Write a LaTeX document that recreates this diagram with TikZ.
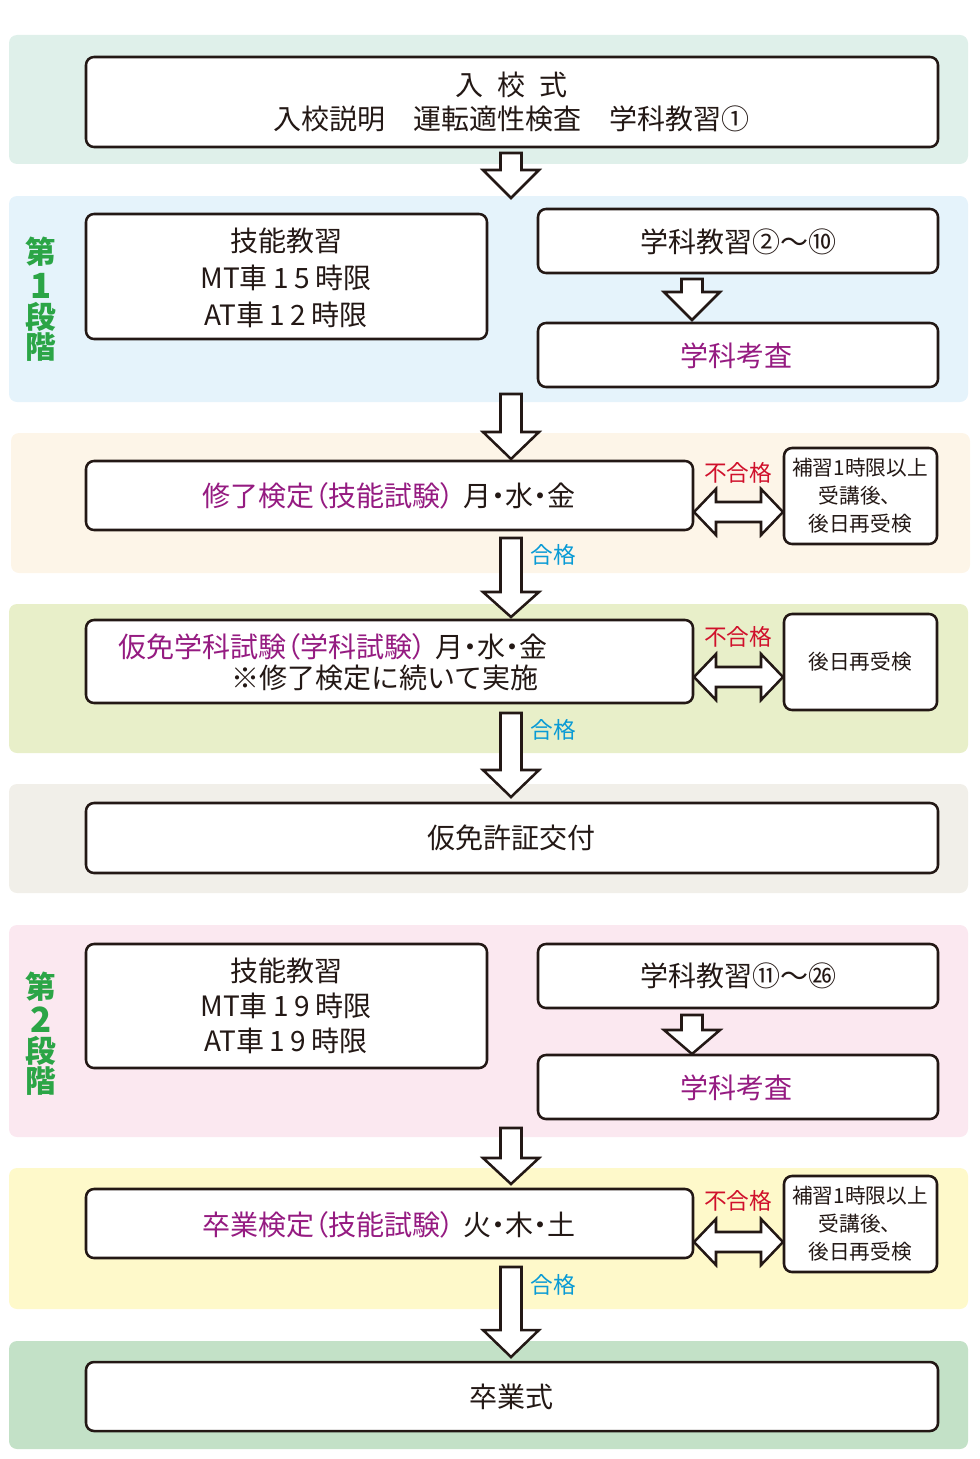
\documentclass[tikz,border=0pt]{standalone}
\usepackage{fontspec}
\setmainfont{Noto Sans CJK JP}
\newfontfamily\paltfont{Noto Sans CJK JP}[RawFeature=+palt]
\definecolor{lineC}{HTML}{231815}
\definecolor{bandA}{HTML}{DFF0EA}
\definecolor{bandB}{HTML}{E5F3FB}
\definecolor{bandC}{HTML}{FDF5E8}
\definecolor{bandD}{HTML}{E8EFC9}
\definecolor{bandE}{HTML}{F1EFE9}
\definecolor{bandF}{HTML}{FBE8F0}
\definecolor{bandG}{HTML}{FEF9CA}
\definecolor{bandH}{HTML}{C3E1C7}
\definecolor{stageG}{HTML}{2BA546}
\definecolor{failR}{HTML}{D0102B}
\definecolor{passB}{HTML}{0A9BD5}
\definecolor{purp}{HTML}{951B81}
\newcommand\bx[6]{\node[box, minimum width={(#4-#2)*0.75pt}, minimum height={(#5-#3)*0.75pt}] (#1) at ({(#2+#4)/2},{(#3+#5)/2}) {#6};}
\newcommand\ds{\hspace{0.2em}}
\tikzset{
  box/.style={draw=lineC, line width=1.9pt, rounded corners=6pt, fill=white, inner sep=0pt, align=center, text=lineC},
  band/.style={rounded corners=6pt},
  blk/.style={draw=lineC, line width=1.9pt, fill=white, line join=miter},
  big/.style={font=\fontsize{21}{27.5}\selectfont},
  bigp/.style={font=\paltfont\fontsize{21}{27.5}\selectfont},
  small/.style={font=\fontsize{15.5}{21}\selectfont},
  lab/.style={font=\fontsize{17}{20}\selectfont, inner sep=0pt},
  stage/.style={font=\fontsize{23}{24}\selectfont\bfseries, text=stageG, inner sep=0pt},
  pics/darr/.style 2 args={code={
    \draw[blk] (-10.5,0) -- (-10.5,#1) -- (-28,#1) -- (0,#2) -- (28,#1) -- (10.5,#1) -- (10.5,0) -- cycle;}},
  pics/harr/.style={code={
    \draw[blk] (0,0) -- (22,-23) -- (22,-10) -- (67,-10) -- (67,-23) -- (89,0) -- (67,23) -- (67,10) -- (22,10) -- (22,23) -- cycle;}}
}
\begin{document}
\begin{tikzpicture}[x=0.75pt,y=-0.75pt]
\useasboundingbox (0,0) rectangle (980,1459);
% bands
\fill[band, bandA] (9,35) rectangle (968,164);
\fill[band, bandB] (9,196) rectangle (968,402);
\fill[band, bandC] (11,433) rectangle (970,573);
\fill[band, bandD] (9,604) rectangle (968,753);
\fill[band, bandE] (9,784) rectangle (968,893);
\fill[band, bandF] (9,925) rectangle (968,1137);
\fill[band, bandG] (9,1168) rectangle (968,1309);
\fill[band, bandH] (9,1341) rectangle (968,1449);
% stage labels
\node[stage] (s1a) at (41,252) {第};
\node[stage, font=\fontsize{26}{26}\selectfont\bfseries] (s1b) at (41,286) {1};
\node[stage] (s1c) at (41,317) {段};
\node[stage] (s1d) at (41,347) {階};
\node[stage] (s2a) at (41,987) {第};
\node[stage, font=\fontsize{26}{26}\selectfont\bfseries] (s2b) at (41,1020) {2};
\node[stage] (s2c) at (41,1051) {段};
\node[stage] (s2d) at (41,1081) {階};
% arrows
\pic at (511,153) {darr={17}{45}};
\pic at (692,279) {darr={13}{41}};
\pic at (511,394) {darr={38}{65}};
\pic at (511,538) {darr={54}{79}};
\pic at (511,713) {darr={57}{84}};
\pic at (692,1015) {darr={15}{39}};
\pic at (511,1128) {darr={30}{56}};
\pic at (511,1267) {darr={63}{90}};
% boxes
\bx{nyuko}{86}{57}{938}{147}{}
\node[big, text=lineC, align=center] (nyukot) at (511,102) {入\hspace{0.5em}校\hspace{0.5em}式\\[-1.5pt]入校説明\hspace{1em}運転適性検査\hspace{1em}学科教習①};
\bx{gino1}{86}{214}{487}{339}{}
\node[big, text=lineC, align=center, font=\fontsize{21}{27.8}\selectfont] (gino1t) at (286,278) {技能教習\\MT車{\ds}1{\ds}5{\ds}時限\\AT車{\ds}1{\ds}2{\ds}時限};
\bx{gaku1}{538}{209}{938}{273}{}
\node[big, text=lineC] (gaku1t) at (738,242) {学科教習②〜⑩};
\bx{kosa1}{538}{323}{938}{387}{}
\node[big, text=purp] (kosa1t) at (736,356) {学科考査};
\bx{shuryo}{86}{461}{693}{530}{}
\node[bigp] (shuryot) at (389,496) {\textcolor{purp}{修了検定（技能試験）}\hspace{0.3em}\textcolor{lineC}{月・水・金}};
\bx{hosyu1}{784}{448}{937}{544}{}
\node[small, text=lineC, align=center] (hosyu1t) at (860,496) {補習1時限以上\\受講後、\\後日再受検};
\bx{karimen}{86}{620}{693}{703}{}
\node[bigp, anchor=west] (karimen1) at (114,647) {\textcolor{purp}{仮免学科試験（学科試験）}\hspace{0.3em}\textcolor{lineC}{月・水・金}};
\node[big, text=lineC, anchor=east] (karimen2) at (543,678) {※修了検定に続いて実施};
\bx{saiju}{784}{614}{937}{710}{}
\node[small, text=lineC] (saijut) at (860,662) {後日再受検};
\bx{kofu}{86}{803}{938}{873}{}
\node[big, text=lineC] (kofut) at (511,838) {仮免許証交付};
\bx{gino2}{86}{944}{487}{1068}{}
\node[big, text=lineC, align=center, font=\fontsize{21}{26.5}\selectfont] (gino2t) at (286,1006) {技能教習\\MT車{\ds}1{\ds}9{\ds}時限\\AT車{\ds}1{\ds}9{\ds}時限};
\bx{gaku2}{538}{944}{938}{1008}{}
\node[big, text=lineC] (gaku2t) at (738,976) {学科教習⑪〜㉖};
\bx{kosa2}{538}{1055}{938}{1119}{}
\node[big, text=purp] (kosa2t) at (736,1088) {学科考査};
\bx{sotsuken}{86}{1189}{693}{1258}{}
\node[bigp] (sotsukent) at (389,1225) {\textcolor{purp}{卒業検定（技能試験）}\hspace{0.3em}\textcolor{lineC}{火・木・土}};
\bx{hosyu2}{784}{1176}{937}{1272}{}
\node[small, text=lineC, align=center] (hosyu2t) at (860,1224) {補習1時限以上\\受講後、\\後日再受検};
\bx{sotsugyo}{86}{1362}{938}{1431}{}
\node[big, text=lineC] (sotsugyot) at (511,1397) {卒業式};
% double arrows
\pic at (694,512) {harr};
\pic at (694,677) {harr};
\pic at (694,1242) {harr};
% labels
\node[lab, text=failR] (f1) at (738,473) {不合格};
\node[lab, text=failR] (f2) at (738,637) {不合格};
\node[lab, text=failR] (f3) at (738,1201) {不合格};
\node[lab, text=passB] (p1) at (553,555) {合格};
\node[lab, text=passB] (p2) at (553,730) {合格};
\node[lab, text=passB] (p3) at (553,1285) {合格};
\end{tikzpicture}
\end{document}
